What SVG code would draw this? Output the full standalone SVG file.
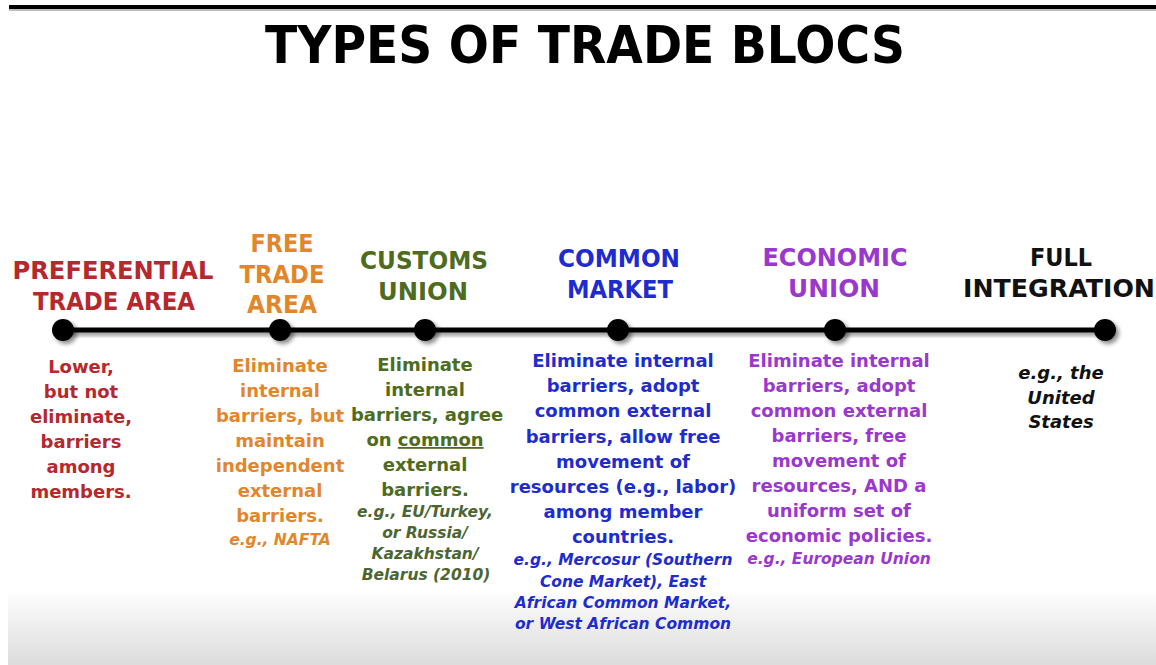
<svg xmlns="http://www.w3.org/2000/svg" width="1156" height="665" viewBox="0 0 1156 665">
  <style>
    .title { font-family: "DejaVu Sans", "Liberation Sans", sans-serif; font-weight: bold; font-size: 52px; fill: #000; text-anchor: middle; }
    .head { font-family: "DejaVu Sans", "Liberation Sans", sans-serif; font-weight: bold; font-size: 25px; text-anchor: middle; }
    .body { font-family: "DejaVu Sans", "Liberation Sans", sans-serif; font-weight: bold; font-size: 18px; text-anchor: middle; }
    .eg { font-family: "DejaVu Sans", "Liberation Sans", sans-serif; font-weight: bold; font-style: italic; font-size: 15.5px; text-anchor: middle; }
    .egbig { font-family: "DejaVu Sans", "Liberation Sans", sans-serif; font-weight: bold; font-style: italic; font-size: 18px; text-anchor: middle; }
    .red { fill: #b5282d; }
    .orange { fill: #e2862c; }
    .green { fill: #4e6b1e; }
    .green2 { fill: #4d6530; }
    .blue { fill: #1e2ccf; }
    .purple { fill: #9a38ce; }
    .black { fill: #111; }
    .dot { fill: #000; filter: url(#shadow); }
    .axis { fill: #000; filter: url(#shadow); }
  </style>
  <defs>
    <filter id="shadow" x="-50%" y="-100%" width="200%" height="300%">
      <feGaussianBlur in="SourceAlpha" stdDeviation="2"/>
      <feOffset dx="3" dy="3" result="b"/>
      <feComponentTransfer><feFuncA type="linear" slope="0.45"/></feComponentTransfer>
      <feMerge><feMergeNode/><feMergeNode in="SourceGraphic"/></feMerge>
    </filter>
    <linearGradient id="floor" x1="0" y1="0" x2="0" y2="1">
      <stop offset="0" stop-color="#fdfdfd"/>
      <stop offset="1" stop-color="#dcdcdc"/>
    </linearGradient>
  </defs>

  <!-- page background -->
  <rect x="0" y="0" width="1156" height="665" fill="#fff"/>
  <rect x="8" y="593" width="1148" height="72" fill="url(#floor)"/>
  <rect x="9" y="9" width="1147" height="2" fill="#bdbdbd"/>
  <rect x="9" y="5" width="1147" height="4" fill="#000"/>

  <text class="title" x="585" y="63" textLength="640" lengthAdjust="spacingAndGlyphs">TYPES OF TRADE BLOCS</text>

  <!-- timeline -->
  <g id="connectors">
    <rect class="axis" x="63" y="327.5" width="1042" height="5"/>
  </g>

  <g id="preferential-trade-area">
    <text class="head red" x="113" y="279" textLength="201" lengthAdjust="spacingAndGlyphs">PREFERENTIAL</text>
    <text class="head red" x="114" y="310" textLength="162" lengthAdjust="spacingAndGlyphs">TRADE AREA</text>
    <circle class="dot" cx="63" cy="330" r="11"/>
    <text class="body red" x="81" y="373">Lower,</text>
    <text class="body red" x="81" y="398">but not</text>
    <text class="body red" x="81" y="423">eliminate,</text>
    <text class="body red" x="81" y="448">barriers</text>
    <text class="body red" x="81" y="473">among</text>
    <text class="body red" x="81" y="498">members.</text>
  </g>

  <g id="free-trade-area">
    <text class="head orange" x="282" y="252" textLength="63" lengthAdjust="spacingAndGlyphs">FREE</text>
    <text class="head orange" x="282" y="283" textLength="85" lengthAdjust="spacingAndGlyphs">TRADE</text>
    <text class="head orange" x="282" y="313" textLength="70" lengthAdjust="spacingAndGlyphs">AREA</text>
    <circle class="dot" cx="280" cy="330" r="11"/>
    <text class="body orange" x="280" y="372">Eliminate</text>
    <text class="body orange" x="280" y="397">internal</text>
    <text class="body orange" x="280" y="422">barriers, but</text>
    <text class="body orange" x="280" y="447">maintain</text>
    <text class="body orange" x="280" y="472">independent</text>
    <text class="body orange" x="280" y="497">external</text>
    <text class="body orange" x="280" y="522">barriers.</text>
    <text class="eg orange" x="280" y="545">e.g., NAFTA</text>
  </g>

  <g id="customs-union">
    <text class="head green" x="424" y="269" textLength="128" lengthAdjust="spacingAndGlyphs">CUSTOMS</text>
    <text class="head green" x="423" y="300" textLength="90" lengthAdjust="spacingAndGlyphs">UNION</text>
    <circle class="dot" cx="425" cy="330" r="11"/>
    <text class="body green" x="425" y="371">Eliminate</text>
    <text class="body green" x="425" y="396">internal</text>
    <text class="body green" x="427" y="421">barriers, agree</text>
    <text class="body green" x="425" y="446">on <tspan text-decoration="underline">common</tspan></text>
    <text class="body green" x="425" y="471">external</text>
    <text class="body green" x="425" y="496">barriers.</text>
    <text class="eg green2" x="425" y="517">e.g., EU/Turkey,</text>
    <text class="eg green2" x="425" y="538">or Russia/</text>
    <text class="eg green2" x="425" y="559">Kazakhstan/</text>
    <text class="eg green2" x="426" y="580">Belarus (2010)</text>
  </g>

  <g id="common-market">
    <text class="head blue" x="619" y="267" textLength="122" lengthAdjust="spacingAndGlyphs">COMMON</text>
    <text class="head blue" x="620" y="298" textLength="106" lengthAdjust="spacingAndGlyphs">MARKET</text>
    <circle class="dot" cx="618" cy="330" r="11"/>
    <text class="body blue" x="623" y="367">Eliminate internal</text>
    <text class="body blue" x="623" y="392">barriers, adopt</text>
    <text class="body blue" x="623" y="417">common external</text>
    <text class="body blue" x="623" y="443">barriers, allow free</text>
    <text class="body blue" x="623" y="468">movement of</text>
    <text class="body blue" x="623" y="493">resources (e.g., labor)</text>
    <text class="body blue" x="623" y="518">among member</text>
    <text class="body blue" x="623" y="543">countries.</text>
    <text class="eg blue" x="623" y="565">e.g., Mercosur (Southern</text>
    <text class="eg blue" x="623" y="587">Cone Market), East</text>
    <text class="eg blue" x="623" y="608">African Common Market,</text>
    <text class="eg blue" x="623" y="629">or West African Common</text>
  </g>

  <g id="economic-union">
    <text class="head purple" x="835" y="266" textLength="145" lengthAdjust="spacingAndGlyphs">ECONOMIC</text>
    <text class="head purple" x="834" y="297" textLength="92" lengthAdjust="spacingAndGlyphs">UNION</text>
    <circle class="dot" cx="835" cy="330" r="11"/>
    <text class="body purple" x="839" y="367">Eliminate internal</text>
    <text class="body purple" x="839" y="392">barriers, adopt</text>
    <text class="body purple" x="839" y="417">common external</text>
    <text class="body purple" x="839" y="442">barriers, free</text>
    <text class="body purple" x="839" y="467">movement of</text>
    <text class="body purple" x="839" y="492">resources, AND a</text>
    <text class="body purple" x="839" y="517">uniform set of</text>
    <text class="body purple" x="839" y="542">economic policies.</text>
    <text class="eg purple" x="839" y="564">e.g., European Union</text>
  </g>

  <g id="full-integration">
    <text class="head black" x="1061" y="266" textLength="62" lengthAdjust="spacingAndGlyphs">FULL</text>
    <text class="head black" x="1059" y="297" textLength="192" lengthAdjust="spacingAndGlyphs">INTEGRATION</text>
    <circle class="dot" cx="1105" cy="330" r="11"/>
    <text class="egbig black" x="1061" y="379">e.g., the</text>
    <text class="egbig black" x="1061" y="404">United</text>
    <text class="egbig black" x="1061" y="428">States</text>
  </g>
</svg>
